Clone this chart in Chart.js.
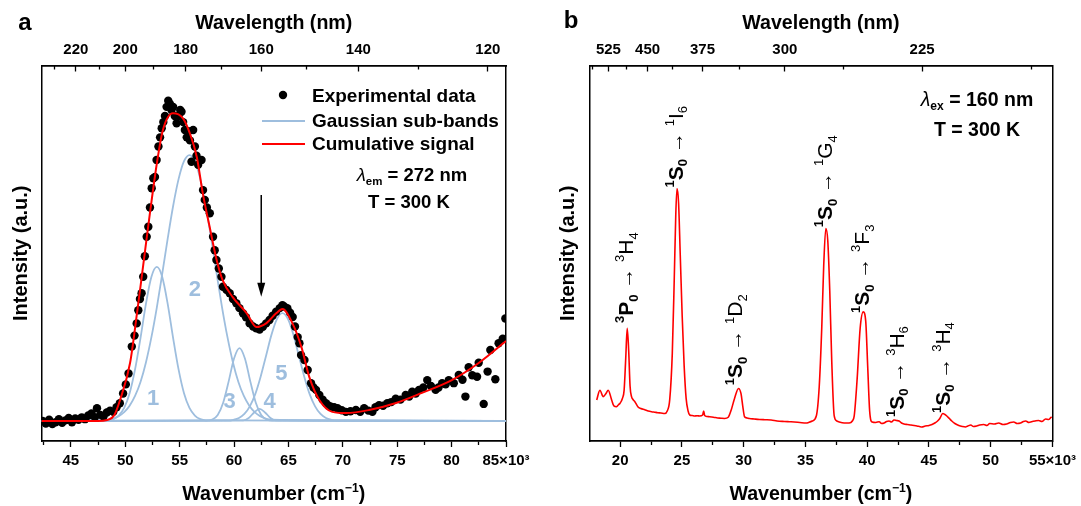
<!DOCTYPE html>
<html>
<head>
<meta charset="utf-8">
<script src="https://cdn.jsdelivr.net/npm/chart.js@4.4.0/dist/chart.umd.min.js"></script>
<style>
  html, body { margin: 0; padding: 0; background: #fff; }
  #wrap { position: relative; width: 1081px; height: 506px; overflow: hidden; }
  canvas { position: absolute; top: 0; }
  #ca { left: 0; }
  #cb { left: 540px; }
</style>
</head>
<body>
<div id="wrap">
  <canvas id="ca" width="540" height="506"></canvas>
  <canvas id="cb" width="541" height="506"></canvas>
</div>
<script>
const FONT = '"Liberation Sans", Arial, sans-serif';
const BLUE = 'rgb(158,190,222)';
const RED = '#ff0000';

// ---- panel a : excitation spectrum (wavenumber in 10^3 cm-1) ----
const expNu = [
  42.4, 42.7, 43.0, 43.3, 43.6, 43.9, 44.2, 44.5, 44.8, 45.1,
  45.4, 45.7, 46.0, 46.3, 46.6, 46.9, 47.2, 47.4, 47.7, 48.0,
  48.3, 48.6, 48.9, 49.2, 49.5, 49.8, 50.05, 50.3, 50.6, 50.85,
  51.05, 51.2, 51.35, 51.5, 51.65, 51.8, 51.97, 52.12, 52.27, 52.43,
  52.58, 52.73, 52.88, 53.05, 53.2, 53.35, 53.5, 53.65, 53.8, 53.95,
  54.1, 54.25, 54.4, 54.55, 54.72, 54.9, 55.05, 55.17, 55.32, 55.48,
  55.65, 55.8, 55.95, 56.09, 56.24, 56.4, 56.55, 56.7, 57.01, 57.15,
  57.31, 57.5, 57.77, 58.07, 58.22, 58.38, 58.6, 58.84, 58.98, 59.3,
  59.6, 59.9, 60.21, 60.5, 60.82, 61.1, 61.43, 61.75, 62.04, 62.35,
  62.65, 62.95, 63.26, 63.55, 63.87, 64.2, 64.45, 64.63, 64.9, 65.15,
  65.39, 65.6, 65.85, 66.01, 66.16, 66.47, 66.77, 67.08, 67.3, 67.54,
  67.84, 68.15, 68.45, 68.7, 68.91, 69.2, 69.51, 69.9, 70.28, 70.7,
  71.2, 71.6, 71.96, 72.35, 72.72, 73.0, 73.33, 73.7, 74.09, 74.45,
  74.86, 75.3, 75.78, 76.1, 76.38, 76.7, 77.0, 77.4, 77.76, 78.1,
  78.53, 78.8, 79.13, 79.45, 79.74, 80.2, 80.66, 81.0, 81.27, 81.57,
  81.9, 82.34, 82.49, 82.95, 83.31, 83.56, 84.02, 84.32, 84.7, 84.94
];
const expInt = [
  0.000, -0.008, 0.004, -0.010, -0.004, 0.006, -0.006, 0.002, 0.010, -0.004,
  0.008, 0.004, 0.012, 0.006, 0.018, 0.025, 0.012, 0.042, 0.020, 0.015,
  0.028, 0.034, 0.030, 0.045, 0.058, 0.090, 0.120, 0.156, 0.244, 0.280,
  0.320, 0.363, 0.400, 0.419, 0.473, 0.540, 0.604, 0.637, 0.700, 0.763,
  0.796, 0.800, 0.856, 0.900, 0.930, 0.960, 0.980, 1.000, 1.030, 1.050,
  1.040, 1.020, 1.030, 1.000, 0.976, 1.000, 1.020, 1.014, 0.980, 0.954,
  0.930, 0.950, 0.920, 0.850, 0.954, 0.900, 0.870, 0.840, 0.856, 0.757,
  0.725, 0.700, 0.681, 0.604, 0.560, 0.528, 0.500, 0.473, 0.440, 0.430,
  0.419, 0.400, 0.386, 0.370, 0.353, 0.340, 0.320, 0.310, 0.304, 0.300,
  0.309, 0.320, 0.331, 0.345, 0.358, 0.370, 0.380, 0.375, 0.370, 0.355,
  0.341, 0.310, 0.275, 0.255, 0.216, 0.200, 0.167, 0.124, 0.110, 0.102,
  0.085, 0.070, 0.058, 0.050, 0.047, 0.045, 0.042, 0.035, 0.030, 0.032,
  0.036, 0.030, 0.042, 0.034, 0.030, 0.045, 0.052, 0.050, 0.058, 0.062,
  0.073, 0.070, 0.085, 0.080, 0.096, 0.090, 0.102, 0.110, 0.134, 0.115,
  0.102, 0.110, 0.124, 0.120, 0.134, 0.124, 0.151, 0.135, 0.080, 0.176,
  0.150, 0.145, 0.191, 0.056, 0.162, 0.233, 0.137, 0.255, 0.270, 0.336
];
const cumNu = [
  42.3, 46.0, 47.5, 48.33, 49.0, 49.52, 50.44, 51.08, 51.63, 52.27,
  52.91, 53.46, 54.38, 55.29, 55.93, 56.58, 57.12, 57.76, 58.40, 58.95,
  59.86, 61.15, 62.06, 62.98, 63.90, 64.45, 65.36, 66.19, 66.92, 67.84,
  69.03, 70.31, 72.42, 74.89, 77.27, 80.02, 82.49, 85.0
];
const cumInt = [
  0, 0, 0, 0.003, 0.020, 0.069, 0.190, 0.354, 0.505, 0.682,
  0.846, 0.954, 1.009, 0.993, 0.944, 0.865, 0.748, 0.636, 0.528, 0.462,
  0.407, 0.354, 0.308, 0.321, 0.354, 0.367, 0.321, 0.243, 0.144, 0.069,
  0.030, 0.026, 0.036, 0.059, 0.092, 0.134, 0.190, 0.262
];
// Gaussian sub-bands 1..5
const g1Nu = [42.3, 48.4, 48.9, 49.4, 49.9, 50.4, 50.9, 51.4, 51.9, 52.4, 52.9, 53.4, 53.9, 54.4, 54.9, 55.4, 55.9, 56.4, 56.9, 57.4, 85];
const g1Int = [0, 0.002, 0.006, 0.018, 0.043, 0.091, 0.169, 0.272, 0.384, 0.472, 0.505, 0.472, 0.384, 0.272, 0.169, 0.091, 0.043, 0.018, 0.006, 0.002, 0];
const g2Nu = [42.3, 48.4, 48.9, 49.4, 49.9, 50.4, 50.9, 51.4, 51.9, 52.4, 52.9, 53.4, 53.9, 54.4, 54.9, 55.4, 55.9,
  56.4, 56.9, 57.4, 57.9, 58.4, 58.9, 59.4, 59.9, 60.4, 60.9, 61.4, 61.9, 62.4, 62.9, 63.4, 85];
const g2Int = [0, 0.004, 0.008, 0.016, 0.029, 0.050, 0.082, 0.128, 0.192, 0.274, 0.372, 0.483, 0.598, 0.705, 0.793, 0.852, 0.872,
  0.852, 0.793, 0.705, 0.598, 0.483, 0.372, 0.274, 0.192, 0.128, 0.082, 0.050, 0.029, 0.016, 0.008, 0.004, 0];
const g3Nu = [42.3, 57.5, 58.0, 58.5, 59.0, 59.5, 60.0, 60.5, 61.0, 61.5, 62.0, 62.5, 63.0, 63.5, 85];
const g3Int = [0, 0.001, 0.005, 0.020, 0.060, 0.129, 0.205, 0.239, 0.205, 0.129, 0.060, 0.020, 0.005, 0.001, 0];
const g4Nu = [42.3, 60.85, 61.35, 61.85, 62.35, 62.85, 63.35, 63.85, 85];
const g4Int = [0, 0.002, 0.010, 0.028, 0.040, 0.028, 0.010, 0.002, 0];
const g5Nu = [42.3, 59.45, 59.95, 60.45, 60.95, 61.45, 61.95, 62.45, 62.95, 63.45, 63.95, 64.45,
  64.95, 65.45, 65.95, 66.45, 66.95, 67.45, 67.95, 68.45, 68.95, 69.45, 85];
const g5Int = [0, 0.001, 0.004, 0.010, 0.023, 0.048, 0.088, 0.146, 0.215, 0.284, 0.335, 0.354,
  0.335, 0.284, 0.215, 0.146, 0.088, 0.048, 0.023, 0.010, 0.004, 0.001, 0];
const bandLabels = ['1', '2', '3', '4', '5'];
const bandLabelNu = [52.55, 56.39, 59.6, 63.26, 64.36];
const bandLabelInt = [0.079, 0.436, 0.069, 0.069, 0.161];

const aBotMajor = [45, 50, 55, 60, 65, 70, 75, 80, 85];
const aBotLabels = ['45', '50', '55', '60', '65', '70', '75', '80', '85×10³'];
const aBotMinor = [42.5, 47.5, 52.5, 57.5, 62.5, 67.5, 72.5, 77.5, 82.5];
const aTopMajor = [220, 200, 180, 160, 140, 120];
const aTopMinor = [230, 210, 190, 170, 150, 130];

// ---- panel b : emission spectrum ----
const specNu = [
  18.10, 18.36, 18.63, 18.85, 19.03, 19.31, 19.49, 19.71, 19.86, 19.98,
  20.18, 20.32, 20.45, 20.57, 20.69, 20.80, 20.92, 21.05, 21.19, 21.43,
  21.67, 21.99, 22.27, 22.54, 22.8, 23.04, 23.3, 23.61, 23.81, 24.01,
  24.22, 24.38, 24.50, 24.60, 24.73, 24.86, 25.02, 25.18, 25.34, 25.5,
  25.63, 25.83, 26.03, 26.23, 26.43, 26.68, 26.76, 26.84, 27.04, 27.24,
  27.55, 27.89, 28.15, 28.45, 28.75, 28.99, 29.26, 29.58, 29.78, 29.95,
  30.07, 30.27, 30.47, 30.85, 31.28, 31.7, 32.22, 32.7, 33.30, 33.7,
  34.10, 34.55, 35.05, 35.3, 35.55, 35.88, 36.12, 36.32, 36.48, 36.65,
  36.81, 36.97, 37.13, 37.33, 37.54, 37.74, 38.14, 38.54, 38.8, 38.95,
  39.19, 39.43, 39.68, 39.88, 40.04, 40.20, 40.40, 40.7, 40.97, 41.17,
  41.37, 41.57, 41.77, 41.97, 42.17, 42.37, 42.58, 42.78, 42.98, 43.25,
  43.55, 43.8, 44.03, 44.23, 44.43, 44.7, 45.00, 45.25, 45.48, 45.7,
  45.88, 46.12, 46.3, 46.45, 46.65, 46.85, 47.1, 47.42, 47.7, 47.96,
  48.15, 48.39, 48.6, 48.87, 49.1, 49.44, 49.7, 49.92, 50.3, 50.65,
  51.0, 51.29, 51.6, 51.86, 52.15, 52.42, 52.65, 52.83, 53.1, 53.31,
  53.6, 53.88, 54.15, 54.44, 54.7, 54.93
];
const specInt = [
  0.164, 0.203, 0.177, 0.190, 0.203, 0.164, 0.140, 0.137, 0.145, 0.150,
  0.170, 0.203, 0.330, 0.450, 0.360, 0.220, 0.177, 0.165, 0.157, 0.137,
  0.130, 0.125, 0.120, 0.117, 0.115, 0.113, 0.112, 0.110, 0.120, 0.164,
  0.350, 0.650, 0.900, 1.008, 0.950, 0.750, 0.500, 0.300, 0.170, 0.120,
  0.104, 0.102, 0.100, 0.101, 0.100, 0.104, 0.120, 0.102, 0.098, 0.097,
  0.095, 0.092, 0.091, 0.090, 0.095, 0.124, 0.170, 0.210, 0.190, 0.130,
  0.097, 0.092, 0.090, 0.088, 0.086, 0.085, 0.084, 0.080, 0.078, 0.077,
  0.076, 0.074, 0.072, 0.075, 0.080, 0.100, 0.220, 0.450, 0.700, 0.849,
  0.800, 0.600, 0.320, 0.100, 0.080, 0.076, 0.072, 0.072, 0.080, 0.100,
  0.250, 0.450, 0.516, 0.480, 0.300, 0.120, 0.076, 0.074, 0.077, 0.070,
  0.072, 0.078, 0.080, 0.076, 0.084, 0.082, 0.080, 0.072, 0.068, 0.066,
  0.064, 0.062, 0.060, 0.058, 0.056, 0.060, 0.062, 0.066, 0.072, 0.080,
  0.090, 0.110, 0.106, 0.100, 0.090, 0.080, 0.070, 0.062, 0.058, 0.056,
  0.060, 0.064, 0.058, 0.060, 0.064, 0.066, 0.062, 0.070, 0.068, 0.072,
  0.066, 0.068, 0.074, 0.076, 0.070, 0.072, 0.078, 0.080, 0.074, 0.077,
  0.080, 0.082, 0.078, 0.088, 0.086, 0.097
];
// transitions: lower state (bold), upper state; anchored at label baseline nu / bottom intensity
const transLower = [['3', 'P', '0'], ['1', 'S', '0'], ['1', 'S', '0'], ['1', 'S', '0'], ['1', 'S', '0'], ['1', 'S', '0'], ['1', 'S', '0']];
const transUpper = [['3', 'H', '4'], ['1', 'I', '6'], ['1', 'D', '2'], ['1', 'G', '4'], ['3', 'F', '3'], ['3', 'H', '6'], ['3', 'H', '4']];
const transNu = [21.03, 25.06, 29.9, 37.15, 40.14, 42.97, 46.68];
const transInt = [0.471, 1.013, 0.223, 0.854, 0.511, 0.096, 0.112];

const bBotMajor = [20, 25, 30, 35, 40, 45, 50, 55];
const bBotLabels = ['20', '25', '30', '35', '40', '45', '50', '55×10³'];
const bBotMinor = [22.5, 27.5, 32.5, 37.5, 42.5, 47.5, 52.5];
const bTopMajor = [525, 450, 375, 300, 225];
const bTopMinor = [562.5, 487.5, 412.5, 337.5, 262.5, 187.5];

// ---- helpers ----
const pts = (xs, ys) => xs.map((x, i) => ({ x: x, y: ys[i] }));

// labelled axes get a real box (labels are clipped to it), minor-tick axes sit at the frame with zero size
function xAxis(pos, min, max, values, labels, len, pad) {
  return {
    type: 'linear', position: pos, min: min, max: max,
    weight: labels ? 1 : 0,
    afterBuildTicks: s => { s.ticks = values.map(v => ({ value: v })); },
    afterFit: s => { s.height = labels ? 40 : 0; },
    grid: { display: true, drawOnChartArea: false, drawTicks: true, tickLength: len, tickWidth: 1.3, tickColor: '#000' },
    border: { display: true, color: '#000', width: 1.5 },
    ticks: {
      display: !!labels, padding: pad, color: '#000', autoSkip: false, maxRotation: 0,
      font: { family: FONT, size: 15, weight: 'bold' },
      callback: (v, i) => labels ? labels[i] : ''
    }
  };
}
function yAxis(pos, min, max) {
  return {
    type: 'linear', position: pos, min: min, max: max,
    afterFit: s => { s.width = 0; },
    grid: { display: true, drawOnChartArea: false, drawTicks: false },
    border: { display: true, color: '#000', width: 1.5 },
    ticks: { display: false }
  };
}

function rich(ctx, parts, x, y, size, align) {
  let w = 0;
  const segs = parts.map(p => {
    const sz = p.m ? size * 0.62 : size;
    const f = (p.i ? 'italic ' : '') + (p.b ? 'bold ' : '') + sz + 'px ' + FONT;
    ctx.font = f;
    const sw = ctx.measureText(p.t).width;
    const dy = p.m === 'sup' ? -size * 0.42 : (p.m === 'sub' ? size * 0.22 : 0);
    const s = { t: p.t, f: f, dy: dy, x: w };
    w += sw;
    return s;
  });
  const x0 = align === 'center' ? x - w / 2 : x;
  ctx.textAlign = 'left';
  ctx.textBaseline = 'alphabetic';
  segs.forEach(s => { ctx.font = s.f; ctx.fillText(s.t, x0 + s.x, y + s.dy); });
  return w;
}

function axisTitles(chart, yTitleX) {
  const ctx = chart.ctx, a = chart.chartArea;
  const cx = (a.left + a.right) / 2;
  const cy = (a.top + a.bottom) / 2;
  ctx.save();
  ctx.fillStyle = '#000';
  rich(ctx, [{ t: 'Wavelength (nm)', b: true }], cx, 29, 19.6, 'center');
  rich(ctx, [{ t: 'Wavenumber (cm', b: true }, { t: '\u22121', b: true, m: 'sup' }, { t: ')', b: true }], cx, 500, 19.6, 'center');
  ctx.translate(yTitleX, cy);
  ctx.rotate(-Math.PI / 2);
  rich(ctx, [{ t: 'Intensity (a.u.)', b: true }], 0, 7, 20, 'center');
  ctx.restore();
}

// ---- panel a ----
const plugA = {
  id: 'annA',
  afterDraw(chart) {
    const ctx = chart.ctx, xs = chart.scales.x, ys = chart.scales.y;
    axisTitles(chart, 20);
    ctx.save();
    ctx.fillStyle = '#000';
    ctx.font = 'bold 24px ' + FONT;
    ctx.textAlign = 'center';
    ctx.textBaseline = 'alphabetic';
    ctx.fillText('a', 25, 30);
    // legend
    ctx.beginPath();
    ctx.arc(283, 95, 4.2, 0, Math.PI * 2);
    ctx.fill();
    ctx.lineWidth = 2;
    ctx.strokeStyle = BLUE;
    ctx.beginPath(); ctx.moveTo(262, 121); ctx.lineTo(305, 121); ctx.stroke();
    ctx.strokeStyle = RED;
    ctx.beginPath(); ctx.moveTo(262, 144); ctx.lineTo(305, 144); ctx.stroke();
    rich(ctx, [{ t: 'Experimental data', b: true }], 312, 102, 19);
    rich(ctx, [{ t: 'Gaussian sub-bands', b: true }], 312, 127, 19);
    rich(ctx, [{ t: 'Cumulative signal', b: true }], 312, 150, 19);
    rich(ctx, [{ t: '\u03bb', i: true }, { t: 'em', b: true, m: 'sub' }, { t: ' = 272 nm', b: true }], 412, 181, 18.5, 'center');
    rich(ctx, [{ t: 'T = 300 K', b: true }], 409, 208, 18.5, 'center');
    // arrow at 160 nm
    const ax = xs.getPixelForValue(62.5);
    const y0 = ys.getPixelForValue(0.741), y1 = ys.getPixelForValue(0.407);
    ctx.strokeStyle = '#000';
    ctx.lineWidth = 1.5;
    ctx.beginPath(); ctx.moveTo(ax, y0); ctx.lineTo(ax, y1 - 10); ctx.stroke();
    ctx.beginPath(); ctx.moveTo(ax - 4, y1 - 14); ctx.lineTo(ax + 4, y1 - 14); ctx.lineTo(ax, y1); ctx.closePath(); ctx.fill();
    // band numbers
    ctx.fillStyle = BLUE;
    bandLabels.forEach((t, i) => {
      rich(ctx, [{ t: t, b: true }], xs.getPixelForValue(bandLabelNu[i]), ys.getPixelForValue(bandLabelInt[i]) + 8, 22, 'center');
    });
    ctx.restore();
  }
};

const lineDs = (data, color, width, order) => ({
  type: 'line', data: data, borderColor: color, borderWidth: width, pointRadius: 0,
  cubicInterpolationMode: 'monotone', fill: false, order: order
});

new Chart(document.getElementById('ca'), {
  type: 'scatter',
  data: {
    datasets: [
      lineDs(pts(cumNu, cumInt), RED, 2, 0),
      { type: 'scatter', data: pts(expNu, expInt), pointRadius: 4.2, pointBackgroundColor: '#000', pointBorderWidth: 0, order: 1 },
      lineDs(pts(g1Nu, g1Int), BLUE, 1.8, 2),
      lineDs(pts(g2Nu, g2Int), BLUE, 1.8, 2),
      lineDs(pts(g3Nu, g3Int), BLUE, 1.8, 2),
      lineDs(pts(g4Nu, g4Int), BLUE, 1.8, 2),
      lineDs(pts(g5Nu, g5Int), BLUE, 1.8, 2)
    ]
  },
  options: {
    responsive: false, animation: false,
    layout: { padding: { left: 41.5, right: 34, top: 25.5, bottom: 25 } },
    plugins: { legend: { display: false }, tooltip: { enabled: false } },
    scales: {
      x: xAxis('bottom', 42.3, 85, aBotMajor, aBotLabels, 6, 5),
      xm: xAxis('bottom', 42.3, 85, aBotMinor, null, 4, 5),
      xt: xAxis('top', 42.3, 85, aTopMajor.map(w => 1e4 / w), aTopMajor.map(String), -6, 12.5),
      xtm: xAxis('top', 42.3, 85, aTopMinor.map(w => 1e4 / w), null, -4, 12.5),
      y: yAxis('left', -0.0656, 1.1656),
      yr: yAxis('right', -0.0656, 1.1656)
    }
  },
  plugins: [plugA]
});

// ---- panel b ----
const plugB = {
  id: 'annB',
  afterDraw(chart) {
    const ctx = chart.ctx, xs = chart.scales.x, ys = chart.scales.y;
    axisTitles(chart, 27);
    ctx.save();
    ctx.fillStyle = '#000';
    ctx.font = 'bold 24px ' + FONT;
    ctx.textAlign = 'center';
    ctx.textBaseline = 'alphabetic';
    ctx.fillText('b', 31, 28);
    rich(ctx, [{ t: '\u03bb', i: true }, { t: 'ex', b: true, m: 'sub' }, { t: ' = 160 nm', b: true }], 437, 106, 19.5, 'center');
    rich(ctx, [{ t: 'T = 300 K', b: true }], 437, 136, 19.5, 'center');
    transNu.forEach((nu, i) => {
      const lo = transLower[i], up = transUpper[i];
      ctx.save();
      ctx.translate(xs.getPixelForValue(nu), ys.getPixelForValue(transInt[i]));
      ctx.rotate(-Math.PI / 2);
      rich(ctx, [
        { t: lo[0], b: true, m: 'sup' }, { t: lo[1], b: true }, { t: lo[2], b: true, m: 'sub' },
        { t: ' \u2192 ' },
        { t: up[0], m: 'sup' }, { t: up[1] }, { t: up[2], m: 'sub' }
      ], 0, 0, 21);
      ctx.restore();
    });
    ctx.restore();
  }
};

new Chart(document.getElementById('cb'), {
  type: 'scatter',
  data: {
    datasets: [ lineDs(pts(specNu, specInt), RED, 1.6, 0) ]
  },
  options: {
    responsive: false, animation: false,
    layout: { padding: { left: 49.3, right: 27.5, top: 25.5, bottom: 25 } },
    plugins: { legend: { display: false }, tooltip: { enabled: false } },
    scales: {
      x: xAxis('bottom', 17.5, 55, bBotMajor, bBotLabels, 6, 5),
      xm: xAxis('bottom', 17.5, 55, bBotMinor, null, 4, 5),
      xt: xAxis('top', 17.5, 55, bTopMajor.map(w => 1e4 / w), bTopMajor.map(String), -6, 12.5),
      xtm: xAxis('top', 17.5, 55, bTopMinor.map(w => 1e4 / w), null, -4, 12.5),
      y: yAxis('left', 0, 1.5),
      yr: yAxis('right', 0, 1.5)
    }
  },
  plugins: [plugB]
});
</script>
</body>
</html>
